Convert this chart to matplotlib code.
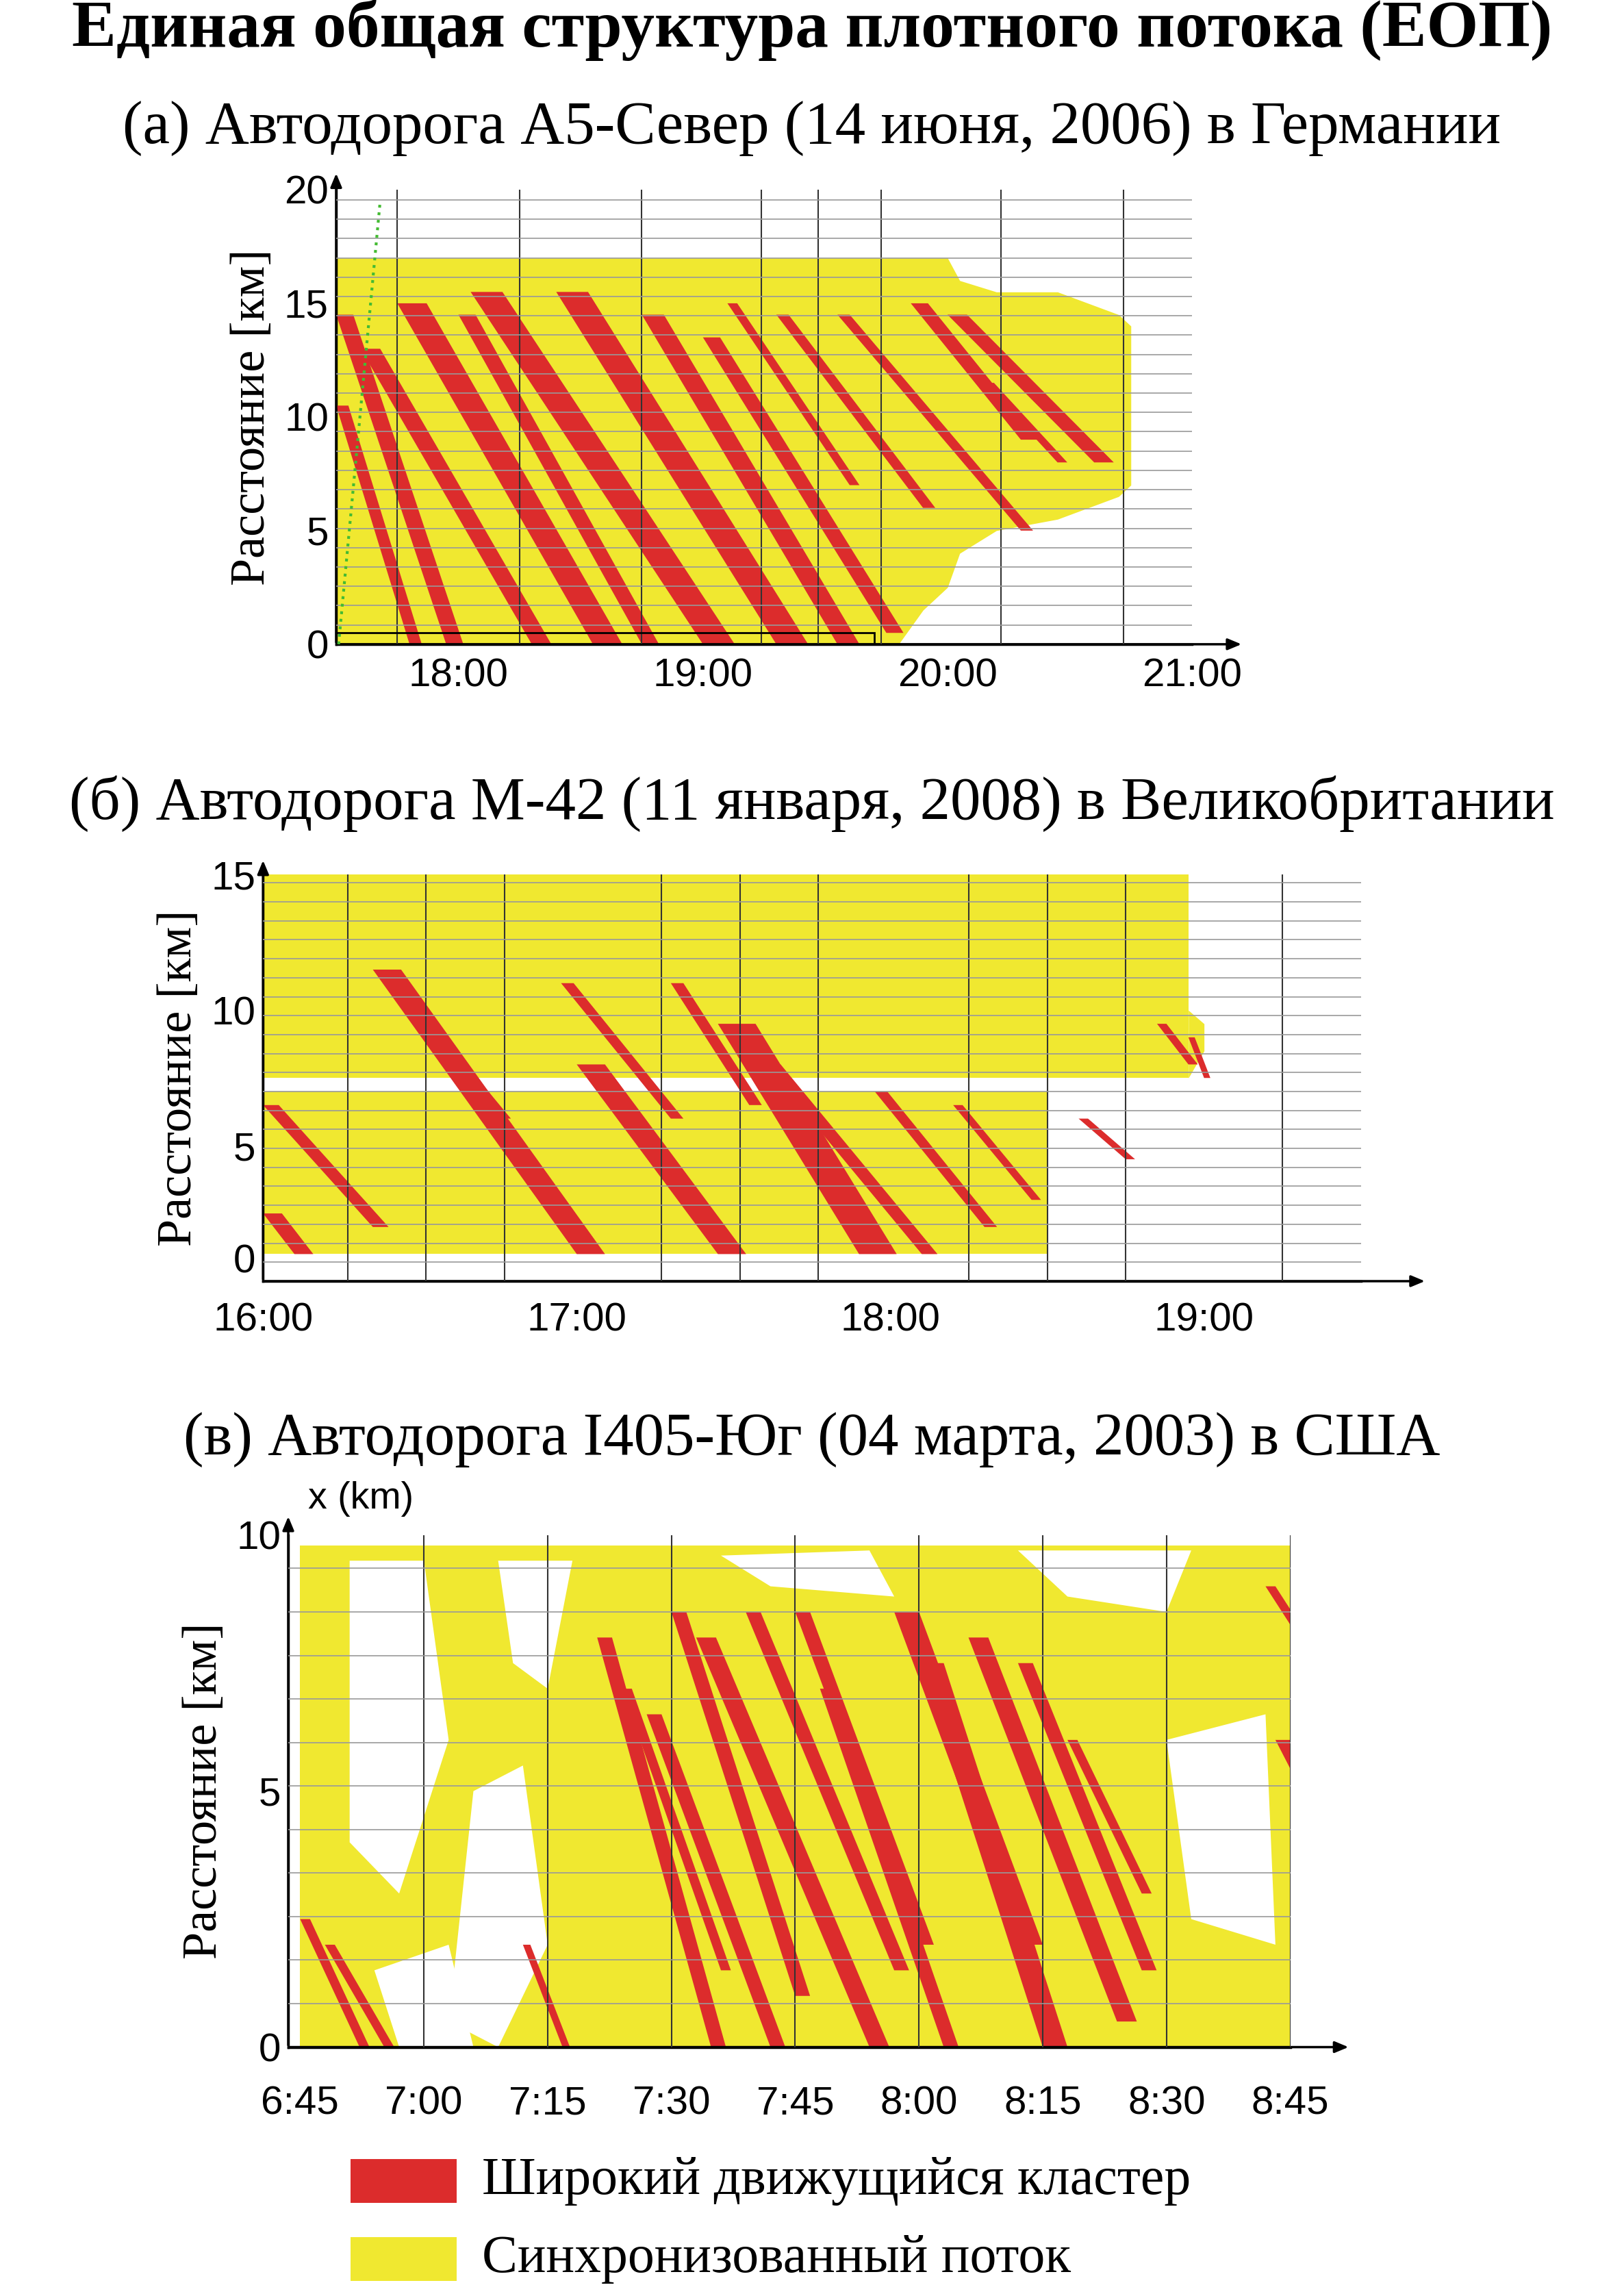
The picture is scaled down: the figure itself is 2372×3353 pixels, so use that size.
import matplotlib
matplotlib.use("Agg")
import matplotlib.pyplot as plt
from matplotlib.patches import Polygon, Rectangle
import numpy as np

RED = "#dc2c2c"; YEL = "#f0e830"
title = "Единая общая структура плотного потока (ЕОП)"
sub_a = "(а) Автодорога А5-Север (14 июня, 2006) в Германии"
sub_b = "(б) Автодорога М-42 (11 января, 2008) в Великобритании"
sub_c = "(в) Автодорога I405-Юг (04 марта, 2003) в США"
ylab = "Расстояние [км]"
leg_labels = ["Широкий движущийся кластер", "Синхронизованный поток"]

a_yt = [17.5, 19.8, 19.9, 20.0, 20.05, 20.2, 20.45, 20.7, 20.75]
a_ylo = [0, 0, 1.5, 2.5, 4.0, 5.0, 5.5, 6.5, 7.0]
a_yhi = [17, 17, 17, 17, 16, 15.5, 15.5, 14.5, 14]
a_bands = [(17.5,14.5,17.95,0,.07),(17.5,10.5,17.8,0,.05),(17.6,13,18.3,0,.08),
           (17.75,15,18.55,0,.12),(18.0,14.5,18.75,0,.07),(18.05,15.5,19.0,0,.13),
           (18.4,15.5,19.3,0,.13),(18.75,14.5,19.55,0,.09),(19.0,13.5,19.75,0.5,.07),
           (19.1,15,19.6,7,.04),(19.3,14.5,19.9,6,.05),(19.55,14.5,20.3,5,.05),
           (19.85,15,20.3,9,.07),(20.0,14.5,20.6,8,.08),(20.15,11.5,20.45,8,.04)]
a_xt = [18, 19, 20, 21]; a_xl = ["18:00", "19:00", "20:00", "21:00"]
a_vgrid = [17.75, 18.25, 18.75, 19.24, 19.47, 19.73, 20.22, 20.72]

b_yellow = [([16.0, 18.95], [7.5, 7.5], [15, 15]), ([16.0, 18.5], [1.0, 1.0], [7.0, 7.0]),
            ([18.95, 19.0], [7.5, 8.5], [10.0, 9.5])]
b_bands = [(16.35,11.5,17.0,1.0,.09),(16.5,9.5,16.75,6.0,.04),(16.95,11.0,17.3,6.0,.04),
           (17.0,8.0,17.45,1.0,.09),(17.3,11.0,17.55,6.5,.04),(17.45,9.5,17.9,1.0,.12),
           (17.6,8.0,18.1,1.0,.05),(17.95,7.0,18.3,2.0,.04),(18.2,6.5,18.45,3.0,.03),
           (16.0,6.5,16.35,2.0,.05),(16.0,2.5,16.1,1.0,.06),(18.6,6.0,18.75,4.5,.03),
           (18.85,9.5,18.95,8.0,.03),(18.95,9.0,19.0,7.5,.02)]
b_xt = [16, 17, 18, 19]; b_xl = ["16:00", "17:00", "18:00", "19:00"]
b_vgrid = [16.27, 16.52, 16.77, 17.27, 17.52, 17.77, 18.25, 18.5, 18.75, 19.25]

c_yellow = ([6.75, 8.75], [0, 0], [9.8, 9.8])
c_holes = [[(6.85,9.5),(7.0,9.5),(7.05,6),(6.95,3),(6.85,4)],
           [(6.9,1.5),(7.05,2),(7.1,0),(6.95,0)],
           [(7.15,9.5),(7.3,9.5),(7.25,7),(7.18,7.5)],
           [(7.1,5),(7.2,5.5),(7.25,2),(7.15,0),(7.05,0.5)],
           [(7.6,9.6),(7.9,9.7),(7.95,8.8),(7.7,9.0)],
           [(8.2,9.7),(8.55,9.7),(8.5,8.5),(8.3,8.8)],
           [(8.5,6),(8.7,6.5),(8.72,2),(8.55,2.5)]]
c_bands = [(6.75,2.5,6.87,0,.02),(6.8,2,6.92,0,.02),(7.2,2,7.28,0,.015),
           (7.35,8,7.58,0,.03),(7.4,7,7.6,1.5,.02),(7.45,6.5,7.7,0,.03),
           (7.5,8.5,7.75,1,.03),(7.55,8,7.9,0,.04),(7.65,8.5,7.95,1.5,.03),
           (7.75,8.5,8.0,2,.03),(7.8,7,8.05,0,.03),(7.95,8.5,8.2,2,.05),
           (8.0,7.5,8.25,0,.05),(8.1,8,8.4,0.5,.04),(8.2,7.5,8.45,1.5,.03),
           (8.3,6,8.45,3,.02),(8.7,9,8.8,7.5,.02),(8.72,6,8.8,4.5,.03)]
c_xt = [6.75, 7.0, 7.25, 7.5, 7.75, 8.0, 8.25, 8.5, 8.75]
c_xl = ["6:45", "7:00", "7:15", "7:30", "7:45", "8:00", "8:15", "8:30", "8:45"]

SERIF = "Liberation Serif"; SANS = "Liberation Sans"
fig = plt.figure(figsize=(23.72, 33.53), dpi=100)
fig.text(0.5, 0.987, title, ha="center", va="center", fontsize=70, fontweight="bold", family=SERIF)

def band(ax, b):
    t0, x0, t1, x1, w = b
    ax.add_patch(Polygon([(t0, x0), (t0 + w, x0), (t1 + w, x1), (t1, x1)], closed=True,
                         fc=RED, ec="none", zorder=3))

def panel(rect, xlim, ylim, yt, xt, xl, vgrid, hstep, bands, yellows, holes=(), xpad=14):
    ax = fig.add_axes(rect)
    ax.set_xlim(*xlim); ax.set_ylim(*ylim)
    for t, lo, hi in yellows:
        ax.fill_between(t, lo, hi, color=YEL, lw=0, zorder=1)
    for h in holes:
        ax.add_patch(Polygon(h, closed=True, fc="white", ec="none", zorder=2))
    for b in bands:
        band(ax, b)
    for v in vgrid:
        ax.axvline(v, color="#333333", lw=1.5, zorder=4)
    for h in np.arange(hstep, ylim[1], hstep):
        ax.axhline(h, color="#999999", lw=1.2, zorder=4)
    for s in ["top", "right"]:
        ax.spines[s].set_visible(False)
    for s in ["left", "bottom"]:
        ax.spines[s].set_linewidth(2.5)
    ax.set_yticks(yt); ax.set_xticks(xt); ax.set_xticklabels(xl)
    ax.tick_params(length=0, labelsize=42)
    ax.tick_params(axis="x", pad=xpad)
    ax.tick_params(axis="y", pad=8)
    for l in ax.get_xticklabels() + ax.get_yticklabels():
        l.set_family(SANS)
    ax.set_ylabel(ylab, fontsize=52, family=SERIF, labelpad=10)
    ax.annotate("", xy=(1.06, 0), xytext=(0, 0), xycoords="axes fraction",
                arrowprops=dict(arrowstyle="-|>,head_length=1.2,head_width=0.5", lw=2.5, color="black"))
    ax.annotate("", xy=(0, 1.04), xytext=(0, 0), xycoords="axes fraction",
                arrowprops=dict(arrowstyle="-|>,head_length=1.2,head_width=0.5", lw=2.5, color="black"))
    return ax

fig.text(0.5, 0.944, sub_a, ha="center", va="center", fontsize=64, family=SERIF)
axa = panel([0.207, 0.7194, 0.527, 0.198], (17.5, 20.94), (0, 20), [0, 5, 10, 15, 20],
            a_xt, a_xl, a_vgrid, 0.85, a_bands, [(a_yt, a_ylo, a_yhi)])
axa.add_patch(Rectangle((17.5, 0), 2.2, 0.5, fc="none", ec="black", lw=2, zorder=5))
axa.plot([17.51, 17.68], [0, 19.5], ls=":", color="#44bb33", lw=3, zorder=5)

fig.text(0.5, 0.65, sub_b, ha="center", va="center", fontsize=64, family=SERIF)
axb = panel([0.162, 0.442, 0.676, 0.177], (16.0, 19.5), (0, 15), [0, 5, 10, 15],
            b_xt, b_xl, b_vgrid, 0.7, b_bands, b_yellow, xpad=22)
axb.get_yticklabels()[0].set_va("bottom")

fig.text(0.5, 0.373, sub_c, ha="center", va="center", fontsize=64, family=SERIF)
axc = panel([0.1775, 0.1084, 0.617, 0.223], (6.726, 8.75), (0, 10), [0, 5, 10],
            c_xt, c_xl, [7.0, 7.25, 7.5, 7.75, 8.0, 8.25, 8.5, 8.75], 0.85, c_bands,
            [c_yellow], c_holes, xpad=40)
axc.text(0.02, 1.07, "x (km)", transform=axc.transAxes, fontsize=40, family=SANS, va="center")

for i, (lab, col) in enumerate(zip(leg_labels, [RED, YEL])):
    y = 0.05 - i * 0.034
    fig.patches.append(Rectangle((0.216, y - 0.0095), 0.065, 0.019, transform=fig.transFigure,
                                 fc=col, ec="none"))
    fig.text(0.297, y, lab, fontsize=56, family=SERIF, va="center")

fig.savefig("out.png", dpi=100)
